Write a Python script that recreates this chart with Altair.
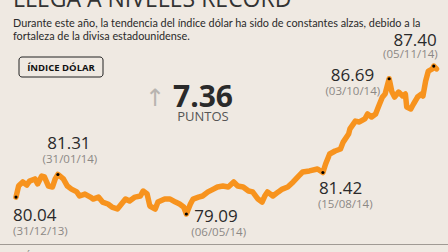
import altair as alt
import pandas as pd

# ---- data ----
dates = [
    "2013-12-31", "2014-01-02", "2014-01-05", "2014-01-08", "2014-01-10", "2014-01-14",
    "2014-01-16", "2014-01-19", "2014-01-21", "2014-01-24", "2014-01-27", "2014-01-29",
    "2014-01-31", "2014-02-04", "2014-02-07", "2014-02-10", "2014-02-14", "2014-02-16",
    "2014-02-20", "2014-02-24", "2014-02-26", "2014-03-02", "2014-03-05", "2014-03-09",
    "2014-03-12", "2014-03-16", "2014-03-19", "2014-03-22", "2014-03-25", "2014-03-29",
    "2014-04-02", "2014-04-04", "2014-04-07", "2014-04-09", "2014-04-13", "2014-04-15",
    "2014-04-20", "2014-04-24", "2014-04-28", "2014-05-01", "2014-05-04", "2014-05-06",
    "2014-05-09", "2014-05-11", "2014-05-15", "2014-05-18", "2014-05-22", "2014-05-26",
    "2014-05-29", "2014-06-02", "2014-06-06", "2014-06-10", "2014-06-13", "2014-06-17",
    "2014-06-21", "2014-06-24", "2014-06-28", "2014-07-01", "2014-07-03", "2014-07-05",
    "2014-07-09", "2014-07-13", "2014-07-16", "2014-07-20", "2014-07-24", "2014-07-28",
    "2014-07-31", "2014-08-05", "2014-08-11", "2014-08-15", "2014-08-17", "2014-08-20",
    "2014-08-24", "2014-08-28", "2014-08-30", "2014-09-03", "2014-09-04", "2014-09-08",
    "2014-09-11", "2014-09-15", "2014-09-17", "2014-09-20", "2014-09-23", "2014-09-25",
    "2014-09-28", "2014-09-30", "2014-10-03", "2014-10-05", "2014-10-07", "2014-10-10",
    "2014-10-13", "2014-10-15", "2014-10-16", "2014-10-19", "2014-10-21", "2014-10-24",
    "2014-10-27", "2014-10-28", "2014-10-30", "2014-11-01", "2014-11-04", "2014-11-05",
    "2014-11-07",
]
values = [
    80.04, 80.68, 80.89, 80.72, 80.94, 81.06,
    80.78, 81.22, 81.17, 80.66, 80.61, 81.06,
    81.31, 81.06, 80.66, 80.49, 80.33, 80.10,
    80.21, 80.04, 79.93, 80.04, 79.76, 79.65,
    79.48, 79.37, 79.65, 79.93, 79.82, 80.04,
    80.10, 80.38, 80.21, 79.54, 79.37, 79.76,
    79.93, 79.93, 79.76, 79.65, 79.48, 79.09,
    79.65, 79.93, 80.04, 80.10, 80.33, 80.49,
    80.61, 80.66, 80.61, 80.89, 80.66, 80.61,
    80.38, 80.33, 79.93, 79.76, 80.10, 80.33,
    80.10, 80.33, 80.49, 80.61, 80.89, 81.22,
    81.45, 81.51, 81.62, 81.42, 81.90, 82.46,
    82.63, 82.74, 83.13, 83.58, 83.87, 84.31,
    84.26, 84.43, 84.71, 84.54, 84.71, 85.10,
    85.66, 85.83, 86.69, 85.96, 85.66, 85.94,
    85.72, 85.83, 85.10, 84.99, 85.27, 85.66,
    85.83, 85.72, 86.56, 87.12, 87.24, 87.40,
    87.24,
]

key_dates = ["2013-12-31", "2014-01-31", "2014-05-06", "2014-08-15", "2014-10-03", "2014-11-05"]
key_values = [80.04, 81.31, 79.09, 81.42, 86.69, 87.40]
key_date_labels = ["(31/12/13)", "(31/01/14)", "(06/05/14)", "(15/08/14)", "(03/10/14)", "(05/11/14)"]

title_text = "LLEGA A NIVELES RÉCORD"
subtitle_lines = [
    "Durante este año, la tendencia del índice dólar ha sido de constantes alzas, debido a la",
    "fortaleza de la divisa estadounidense.",
]
box_label = "ÍNDICE DÓLAR"
change_value = "7.36"
change_unit = "PUNTOS"
source_text = "GRÁFICO EE FUENTE: REUTERS"

# ---- styling ----
BG = "#EFE9E2"
ORANGE = "#F7931E"
DARK = "#2a2a2a"
GREY = "#8c8885"
FONT = "Open Sans"
W, H = 448, 252

series = pd.DataFrame({"date": dates, "value": values})
keys = pd.DataFrame({"date": key_dates, "value": key_values,
                     "num": [f"{v:.2f}" for v in key_values],
                     "lab": key_date_labels})

# scale domains so that the picture geometry matches
t0 = pd.Timestamp("2013-12-31").value // 10**6
day = 86400000
px_per_day = 1.352
x_dom = [t0 - (16 / px_per_day) * day, t0 + ((W - 16) / px_per_day) * day]
px_per_unit = 17.8
y_dom = [79.09 - (H - 214) / px_per_unit, 79.09 + 214 / px_per_unit]

X = alt.X("date:T", scale=alt.Scale(type="utc", domain=x_dom), axis=None)
Y = alt.Y("value:Q", scale=alt.Scale(domain=y_dom, zero=False, nice=False), axis=None)

line = alt.Chart(series).mark_line(
    color=ORANGE, strokeWidth=5.5, strokeJoin="round", strokeCap="round", clip=False
).encode(x=X, y=Y)

dots = alt.Chart(keys).mark_circle(color="black", size=10, opacity=1).encode(x=X, y=Y)

# per-label placement: (align, dx_num, dy_num, dx_date, dy_date)
place = [
    ("left", -3, 24, -3, 38),
    ("center", 11, -25, 12, -11),
    ("left", 8, 8, 5, 22),
    ("left", -4, 21, -5, 35),
    ("right", -15, 2, -9, 16),
    ("right", 3, -20, 4, -8),
]
labels = []
for i, (al, dxn, dyn, dxd, dyd) in enumerate(place):
    row = keys.iloc[[i]]
    labels.append(alt.Chart(row).mark_text(
        align=al, baseline="alphabetic", dx=dxn, dy=dyn, font=FONT, fontSize=17, color=DARK
    ).encode(x=X, y=Y, text="num:N"))
    labels.append(alt.Chart(row).mark_text(
        align=al, baseline="alphabetic", dx=dxd, dy=dyd, font=FONT, fontSize=11.5, color=GREY
    ).encode(x=X, y=Y, text="lab:N"))

def txt(s, x, y, **kw):
    return alt.Chart(pd.DataFrame({"t": [s]})).mark_text(baseline="alphabetic", **kw).encode(
        x=alt.value(x), y=alt.value(y), text="t:N")

title = txt(title_text, 13, 7, align="left", font=FONT, fontSize=23, color="#333333")
sub1 = txt(subtitle_lines[0], 13, 27, align="left", font="Lato", fontSize=10.85, color=DARK)
sub2 = txt(subtitle_lines[1], 13, 40, align="left", font="Lato", fontSize=10.85, color=DARK)

box = alt.Chart(pd.DataFrame({"a": [0]})).mark_rect(
    fill=BG, stroke="#222222", strokeWidth=1, cornerRadius=3
).encode(x=alt.value(19), x2=alt.value(103), y=alt.value(57), y2=alt.value(77))
box_t = txt(box_label, 61, 70.5, align="center", font=FONT, fontSize=9.5, fontWeight="bold", color="#111111")

arrow = txt("↑", 155, 106, align="center", font="DejaVu Sans", fontSize=24, color="#b8b4b0")
big = txt(change_value, 203, 107, align="center", font=FONT, fontSize=30, fontWeight="bold", color=DARK)
unit = txt(change_unit, 203, 121, align="center", font=FONT, fontSize=13, color="#555555")

rule = alt.Chart(pd.DataFrame({"a": [0]})).mark_rule(color="#a09a94", strokeWidth=1).encode(
    x=alt.value(0), x2=alt.value(W), y=alt.value(244.5))
src = txt(source_text, 15, 257, align="left", font=FONT, fontSize=7.5, fontWeight="bold", color="#333333")

chart = alt.layer(
    line, dots, *labels, title, sub1, sub2, box, box_t, arrow, big, unit, rule, src
).properties(
    width=W, height=H, background=BG, padding=0,
    autosize=alt.AutoSizeParams(type="none"),
).configure_view(stroke=None)

chart.save("out.html", embed_options={"renderer": "svg", "actions": False})
